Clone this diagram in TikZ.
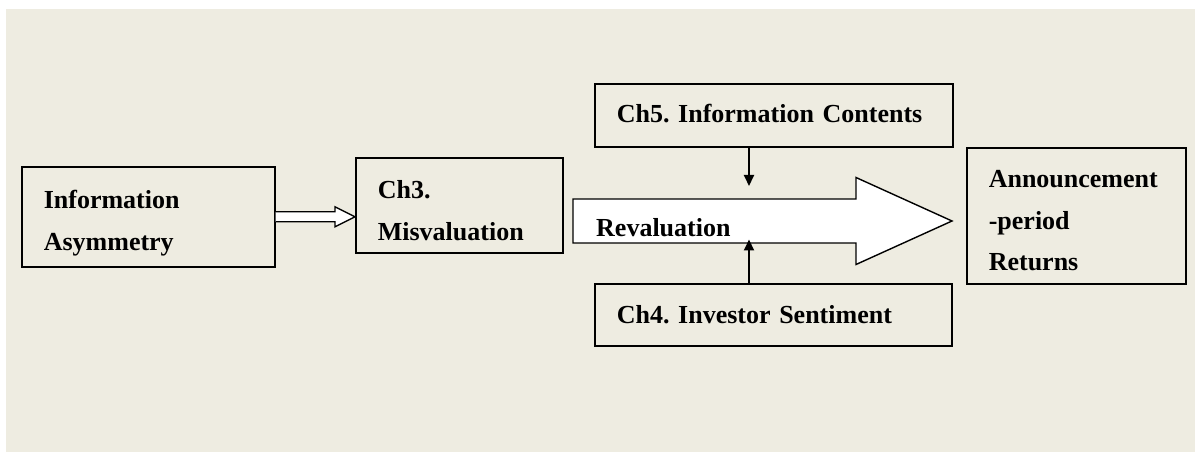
\documentclass[tikz,border=0pt]{standalone}
\usepackage{fontspec}
\setmainfont{Liberation Serif}
\usetikzlibrary{arrows.meta}
\definecolor{cbeige}{RGB}{238, 236, 225}
\frenchspacing

\tikzset{
    chapter/.style={draw, line width=1.6pt, anchor=north west, inner xsep=22pt, inner ysep=0pt,
        align=left, font=\bfseries\fontsize{26}{41.5}\selectfont},
    hollow/.style={draw, fill=white, line width=1.4pt, line join=miter},
    feed/.style={line width=2pt, -{Triangle[length=11pt, width=10pt]}},
}

\begin{document}
\begin{tikzpicture}[x=1pt, y=1pt]

% canvas
\useasboundingbox (0, 0) rectangle (1195, 453);
\fill [cbeige] (6, 1) rectangle (1195, 444);

% boxes
\node [chapter, text width=209pt, text height=42pt, text depth=58pt] (asym) at (21, 287) {Information\\Asymmetry};
\node [chapter, text width=163pt, text height=41pt, text depth=54pt] (misval) at (355, 296) {Ch3.\\Misvaluation};
\node [chapter, text width=314pt, text height=39pt, text depth=24pt] (ch5) at (594, 370) {Ch5. Information Contents};
\node [chapter, text width=313pt, text height=40pt, text depth=22pt] (ch4) at (594, 170) {Ch4. Investor Sentiment};
\node [chapter, text width=175pt, text height=40pt, text depth=96pt] (announce) at (966, 306) {Announcement\\-period\\Returns};

% hollow arrow into misvaluation
\coordinate (misvaltip) at (misval.west |- asym.east);
\draw [hollow] ([yshift=5]asym.east) -- ([shift={(-20, 5)}]misvaltip) -- ([shift={(-20, 10)}]misvaltip)
    -- (misvaltip) -- ([shift={(-20, -10)}]misvaltip) -- ([shift={(-20, -5)}]misvaltip) -- ([yshift=-5]asym.east);

% revaluation arrow
\draw [hollow] (573, 210) -- (856, 210) -- (856, 188.5) -- (952, 232) -- (856, 275.5) -- (856, 254) -- (573, 254) -- cycle;
\node [anchor=base west, inner sep=0pt, font=\bfseries\fontsize{26}{41.5}\selectfont] (reval) at (596, 216.3) {Revaluation};

% chapter feeds
\coordinate (ch5tip) at (749, 267);
\draw [feed] (ch5.south -| ch5tip) -- (ch5tip);
\coordinate (ch4tip) at (749, 213.5);
\draw [feed] (ch4.north -| ch4tip) -- (ch4tip);

\end{tikzpicture}
\end{document}
